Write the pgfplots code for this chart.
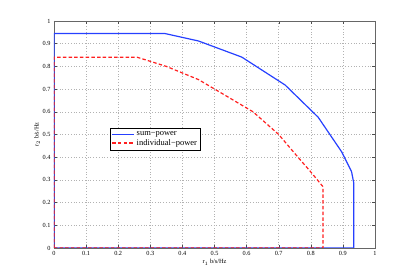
\documentclass[border=0pt]{standalone}
\usepackage{pgfplots}
\pgfplotsset{compat=1.18}
\usepackage{fontspec}
\setmainfont{Liberation Serif}
\definecolor{mblue}{rgb}{0.15,0.25,1}
\definecolor{mred}{rgb}{1,0.12,0.12}
\begin{document}
\begin{tikzpicture}
\begin{axis}[name=ax,
  scale only axis, width=321bp, height=227bp,
  xmin=0, xmax=1, ymin=0, ymax=1,
  xtick={0,0.1,...,1}, ytick={0,0.1,...,1},
  xticklabels={0,0.1,0.2,0.3,0.4,0.5,0.6,0.7,0.8,0.9,1},
  yticklabels={0,0.1,0.2,0.3,0.4,0.5,0.6,0.7,0.8,0.9,1},
  tick align=inside, tick pos=both,
  major tick length=3bp,
  tick style={black!70, line width=0.4pt},
  axis line style={black!60, line width=0.5pt},
  grid=major, major grid style={dash pattern=on 0.8bp off 2bp, gray!60, line width=0.5pt},
  ticklabel style={font=\fontsize{6.3}{7}\selectfont},
  /pgf/number format/assume math mode=true,
  xlabel={r$_1$ b/s/Hz}, ylabel={r$_2$ b/s/Hz},
  label style={font=\fontsize{6.3}{7}\selectfont},
  xlabel style={yshift=3bp},
  ylabel style={yshift=-4bp},
  legend style={at={(0.174,0.53)}, anchor=north west, font=\fontsize{8.5}{10}\selectfont,
    inner sep=1.5pt, row sep=-1.5pt, cells={anchor=west}},
  legend cell align=left,
  legend image code/.code={\draw[mark repeat=2,mark phase=2,#1] plot coordinates {(0bp,0bp) (11bp,0bp) (22bp,0bp)};},
]
\addplot[mblue, line width=1.2pt] coordinates {
 (0,0) (0,0.945) (0.345,0.945) (0.45,0.912) (0.585,0.841) (0.72,0.718)
 (0.823,0.576) (0.896,0.424) (0.927,0.336) (0.934,0.285) (0.934,0) (0,0)};
\addlegendentry{sum−power}
\addplot[mred, line width=1.2pt, dash pattern=on 3.5bp off 2.2bp] coordinates {
 (0,0) (0,0.84) (0.26,0.84) (0.35,0.80) (0.45,0.742) (0.54,0.667) (0.62,0.60)
 (0.70,0.50) (0.76,0.40) (0.80,0.335) (0.838,0.27) (0.838,0) (0,0)};
\addlegendentry{individual−power}
\end{axis}
\path (ax.south west) ++(-54bp,-31bp) coordinate (bl);
\path (ax.north east) ++(40bp,21bp) coordinate (tr);
\useasboundingbox (bl) rectangle (tr);
\end{tikzpicture}
\end{document}
